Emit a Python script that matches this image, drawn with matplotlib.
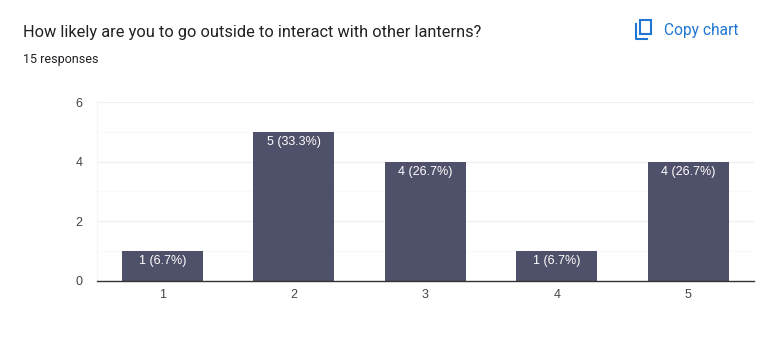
import matplotlib
matplotlib.use('Agg')
import matplotlib.pyplot as plt
from matplotlib.patches import Rectangle
from matplotlib.lines import Line2D

# data
categories = ['1', '2', '3', '4', '5']
counts = [1, 5, 4, 1, 4]
bar_labels = ['1 (6.7%)', '5 (33.3%)', '4 (26.7%)', '1 (6.7%)', '4 (26.7%)']
y_ticks = [0, 2, 4, 6]
y_minor = [1, 3, 5]

W, H = 763, 351
BAR = '#4f5069'
BLUE = '#2176d2'

fig = plt.figure(figsize=(W / 100, H / 100), dpi=100, facecolor='white')

# plot area in pixels: x 96-755, y 101-280
ax = fig.add_axes([96.5 / W, 1 - 280.5 / H, 657.5 / W, 178.4 / H])
x = list(range(len(categories)))
ax.bar(x, counts, width=0.618, color=BAR, zorder=3)
ax.set_xlim(-0.5, 4.5)
ax.set_ylim(0, 6)

# gridlines
for v in y_ticks[1:]:
    ax.axhline(v, color='#f0f0f0', linewidth=1, zorder=1)
for v in y_minor:
    ax.axhline(v, color='#f9f9f9', linewidth=1, zorder=1)

for s in ['top', 'right']:
    ax.spines[s].set_visible(False)
ax.spines['left'].set_color('#f5f5f5')
ax.spines['bottom'].set_color('#333333')
ax.spines['bottom'].set_linewidth(1)
ax.spines['bottom'].set_zorder(4)

ax.set_xticks(x, categories)
ax.set_yticks(y_ticks, [str(v) for v in y_ticks])
ax.tick_params(length=0, labelsize=9, labelcolor='#444444', labelfontfamily='Liberation Sans')
ax.tick_params(axis='x', pad=6)
ax.tick_params(axis='y', pad=10)

for i, (c, t) in enumerate(zip(counts, bar_labels)):
    ax.annotate(t, (i, c), xytext=(0, -3), textcoords='offset points', ha='center', va='top',
                color='white', fontsize=9, family='Liberation Sans', zorder=5)

# header
fig.text(23 / W, 1 - 32.5 / H, 'How likely are you to go outside to interact with other lanterns?',
         family='Roboto', fontsize=11.8, color='#202124', va='center')
fig.text(23 / W, 1 - 59 / H, '15 responses', family='Roboto', fontsize=9, color='#202124', va='center')
fig.text(664 / W, 1 - 30 / H, 'Copy chart', family='Roboto', fontsize=11.2, color=BLUE, va='center')


# copy icon, in pixel coordinates
def px(x0, y0):
    return x0 / W, 1 - y0 / H


fig.add_artist(Rectangle(px(639.5, 34), 11.5 / W, 14 / H, fill=False, edgecolor=BLUE, linewidth=1.5,
                         transform=fig.transFigure))
xs, ys = zip(px(635.5, 24), px(635.5, 38.5), px(647, 38.5))
fig.add_artist(Line2D(xs, ys, color=BLUE, linewidth=1.5, transform=fig.transFigure))

fig.savefig('out.png', dpi=100)
